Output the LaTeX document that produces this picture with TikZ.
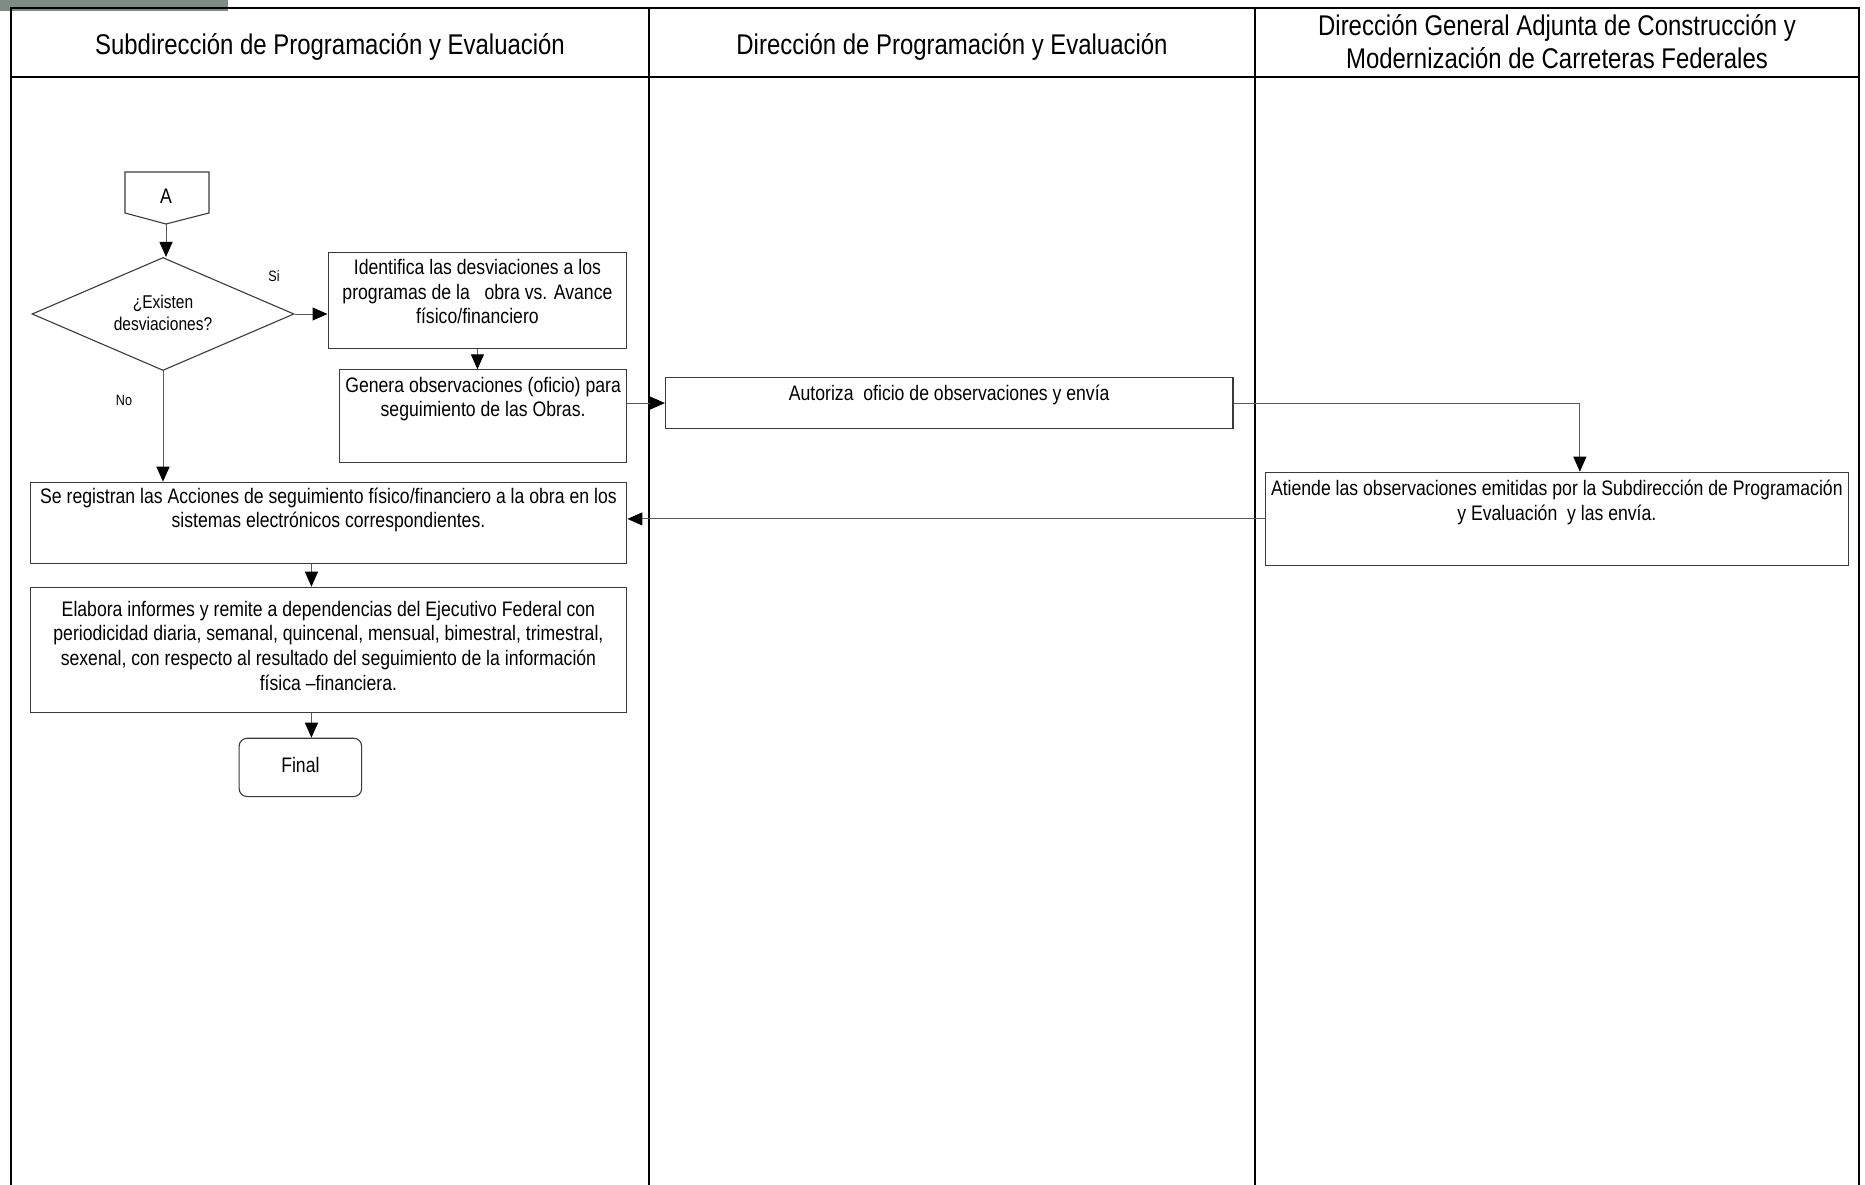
\documentclass[tikz,border=0pt]{standalone}
\usepackage{fontspec}
\setmainfont[FakeStretch=0.84]{Liberation Sans}
\usetikzlibrary{shapes.geometric,arrows.meta,calc}

\definecolor{barcol}{HTML}{7F8C84}
\definecolor{boxcol}{HTML}{3A3A3A}
\definecolor{lncol}{HTML}{5A5A5A}

\newcommand{\bodyfont}{\fontsize{21}{24.7}\selectfont}
\newcommand{\headfont}{\fontsize{28.5}{33}\selectfont}
\newcommand{\diafont}{\fontsize{18.5}{21.5}\selectfont}
\newcommand{\lblfont}{\fontsize{15}{17}\selectfont}
\newcommand{\termfont}{\fontsize{21}{24}\selectfont}
\newcommand{\bxtext}[4]{\parbox[c][#2][t]{#1}{\centering\vspace*{#3}\strut #4\par}}

\tikzset{
  procbox/.style={draw=boxcol, line width=1.1pt, inner sep=0pt, anchor=north west, font=\bodyfont},
  conn/.style={draw=lncol, line width=1pt, -{Triangle[length=15pt,width=13pt,color=black]}},
  frameline/.style={draw=black, line width=2.2pt},
  headtext/.style={font=\headfont, align=center},
  lbl/.style={font=\lblfont},
}

\begin{document}
\begin{tikzpicture}[x=1pt,y=-1pt]
\useasboundingbox (0,0) rectangle (1865,1185);

% frame
\fill[barcol] (0,0) rectangle (228,11);
\draw[frameline] (11,1190) -- (11,8) -- (1859,8) -- (1859,1190);
\draw[frameline] (11,77) -- (1859,77);
\draw[frameline] (649,8) -- (649,1190);
\draw[frameline] (1255,8) -- (1255,1190);

% headers
\node[headtext] (h1) at (330,46.5) {Subdirección de Programación y Evaluación};
\node[headtext] (h2) at (952,46.5) {Dirección de Programación y Evaluación};
\node[headtext] (h3) at (1557,42) {Dirección General Adjunta de Construcción y\\Modernización de Carreteras Federales};

% connector A
\draw[boxcol, line width=1.1pt] (125,172) -- (209,172) -- (209,213) -- (166,224) -- (125,213) -- cycle;
\node[font=\termfont] (conA) at (166,196) {A};
\coordinate (Atip) at (166,224);

% decision
\node[diamond, draw=boxcol, line width=1.1pt, minimum width=262pt, minimum height=113pt,
      aspect=2.32, inner sep=0pt, font=\diafont, align=center] (dia) at (163,314) {\raisebox{2pt}{¿Existen}\\\raisebox{2pt}{desviaciones?}};

% process boxes
\node[procbox] (b1) at (327.5,252.3) {\bxtext{298.8pt}{95.4pt}{4.4pt}{Identifica las desviaciones a los\\programas de la~~ obra vs. Avance\\físico/financiero}};
\node[procbox] (b2) at (338.8,369.3) {\bxtext{287.5pt}{92.4pt}{5pt}{Genera observaciones (oficio) para\\seguimiento de las Obras.}};
\node[procbox] (aut) at (664.9,376.7) {\bxtext{567.5pt}{51.6pt}{5.5pt}{Autoriza~ oficio de observaciones y envía}};
\node[procbox] (att) at (1264.7,471.7) {\bxtext{583.2pt}{93.3pt}{6pt}{Atiende las observaciones emitidas por la Subdirección de Programación\\y Evaluación~ y las envía.}};
\node[procbox] (b3) at (29.5,481.7) {\bxtext{596.8pt}{81.6pt}{3.5pt}{Se registran las Acciones de seguimiento físico/financiero a la obra en los\\sistemas electrónicos correspondientes.}};
\node[procbox] (b4) at (29.5,586.7) {\bxtext{596.8pt}{125pt}{11.5pt}{Elabora informes y remite a dependencias del Ejecutivo Federal con\\periodicidad diaria, semanal, quincenal, mensual, bimestral, trimestral,\\sexenal, con respecto al resultado del seguimiento de la información\\física –financiera.}};
\node[draw=boxcol, line width=1.1pt, rounded corners=8pt, minimum width=122.5pt, minimum height=58.3pt,
      inner sep=0pt, anchor=north west, font=\termfont] (fin) at (238.6,737.7) {\raisebox{5pt}{Final}};

% labels
\node[lbl] (si) at (274,276) {Si};
\node[lbl] (no) at (124,400) {No};

% connectors
\draw[conn] (Atip) -- (Atip |- dia.north);
\draw[conn] (dia.east) -- (dia.east -| b1.west);
\draw[conn] (b1.south) -- (b1.south |- b2.north);
\draw[conn] (dia.south) -- (dia.south |- b3.north);
\draw[conn] (b2.east |- aut.west) -- (aut.west);
\coordinate (atttop) at ($(att.north)+(23,0)$);
\draw[conn] (aut.east) -| (atttop);
\draw[conn] (att.west) -- (att.west -| b3.east);
\coordinate (c34) at ($(b3.south)+(-17,0)$);
\draw[conn] (c34) -- (c34 |- b4.north);
\coordinate (c4f) at ($(b4.south)+(-17,0)$);
\draw[conn] (c4f) -- (c4f |- fin.north);
\end{tikzpicture}
\end{document}
